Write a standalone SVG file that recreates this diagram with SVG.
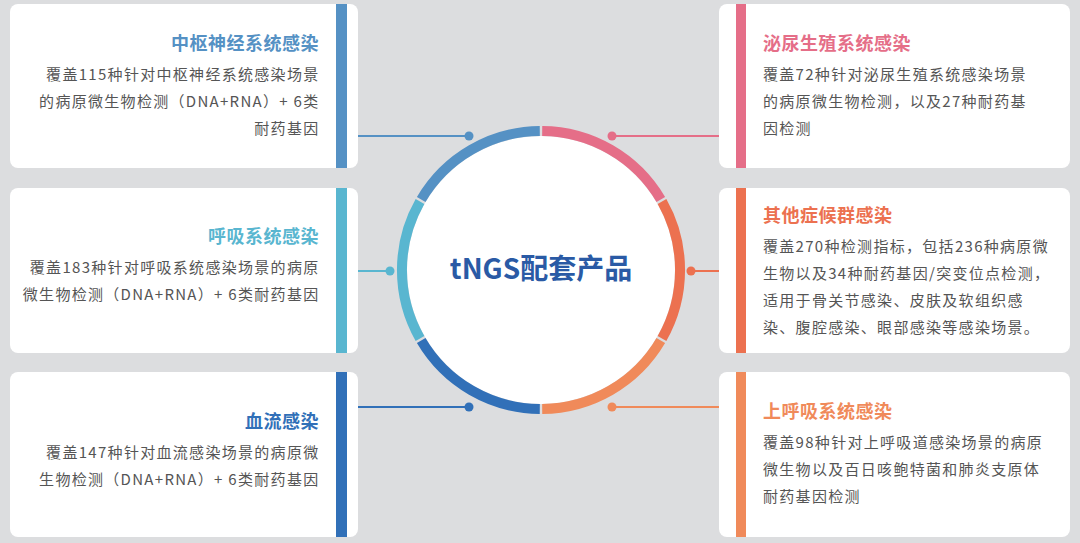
<svg xmlns="http://www.w3.org/2000/svg" width="1080" height="543" viewBox="0 0 1080 543">
<style>
.card{fill:#fff}
.t{font-family:"Noto Sans CJK SC","Noto Sans",sans-serif;font-weight:bold;font-size:18px;letter-spacing:0.5px}
.b{font-family:"Noto Sans CJK SC","Noto Sans",sans-serif;font-size:15px;fill:#555;letter-spacing:1.3px}
.l{text-anchor:end}
.ring{fill:none;stroke-width:10}
</style>
<rect width="1080" height="543" fill="#dcdddf"/>
<g id="center">
<circle cx="541" cy="270" r="134" fill="#fff"/>
<path class="ring" stroke="#5591c4" d="M539.8,131 A139,139 0 0 0 421.2,199.5"/>
<path class="ring" stroke="#e56e88" d="M542.2,131 A139,139 0 0 1 660.8,199.5"/>
<path class="ring" stroke="#ec7150" d="M662,201.5 A139,139 0 0 1 662,338.5"/>
<path class="ring" stroke="#f08a5a" d="M660.8,340.5 A139,139 0 0 1 542.2,409"/>
<path class="ring" stroke="#3170b8" d="M539.8,409 A139,139 0 0 1 421.2,340.5"/>
<path class="ring" stroke="#59b6d0" d="M420,338.5 A139,139 0 0 1 420,201.5"/>
<text x="541" y="279" text-anchor="middle" font-family="'Noto Sans CJK SC','Noto Sans',sans-serif" font-weight="bold" font-size="28" fill="#2a5aa5">tNGS配套产品</text>
</g>
<g id="connectors" stroke-width="2">
<line x1="358" y1="136" x2="469" y2="136" stroke="#5591c4"/><circle cx="469" cy="136" r="4.5" fill="#5591c4"/>
<line x1="358" y1="271" x2="390" y2="271" stroke="#59b6d0"/><circle cx="390" cy="271" r="4.5" fill="#59b6d0"/>
<line x1="358" y1="407" x2="469" y2="407" stroke="#3170b8"/><circle cx="469" cy="407" r="4.5" fill="#3170b8"/>
<line x1="612" y1="136" x2="720" y2="136" stroke="#e56e88"/><circle cx="612" cy="136" r="4.5" fill="#e56e88"/>
<line x1="691" y1="271" x2="720" y2="271" stroke="#ec7150"/><circle cx="691" cy="271" r="4.5" fill="#ec7150"/>
<line x1="612" y1="407" x2="720" y2="407" stroke="#f08a5a"/><circle cx="612" cy="407" r="4.5" fill="#f08a5a"/>
</g>
<g id="cns">
<rect class="card" x="10" y="4" width="348" height="164" rx="8"/>
<rect x="336" y="4" width="11" height="164" fill="#5591c4"/>
<text class="t l" x="319" y="50" fill="#5591c4">中枢神经系统感染</text>
<text class="b l" x="319.5" y="80">覆盖115种针对中枢神经系统感染场景</text>
<text class="b l" x="319.5" y="107">的病原微生物检测（DNA+RNA）+ 6类</text>
<text class="b l" x="319.5" y="134">耐药基因</text>
</g>
<g id="resp">
<rect class="card" x="10" y="188" width="348" height="165" rx="8"/>
<rect x="336" y="188" width="11" height="165" fill="#59b6d0"/>
<text class="t l" x="319" y="243" fill="#59b6d0">呼吸系统感染</text>
<text class="b l" x="319.5" y="273">覆盖183种针对呼吸系统感染场景的病原</text>
<text class="b l" x="319.5" y="300">微生物检测（DNA+RNA）+ 6类耐药基因</text>
</g>
<g id="blood">
<rect class="card" x="10" y="372" width="348" height="165" rx="8"/>
<rect x="336" y="372" width="11" height="165" fill="#3170b8"/>
<text class="t l" x="319" y="428" fill="#3170b8">血流感染</text>
<text class="b l" x="319.5" y="458">覆盖147种针对血流感染场景的病原微</text>
<text class="b l" x="319.5" y="485">生物检测（DNA+RNA）+ 6类耐药基因</text>
</g>
<g id="uro">
<rect class="card" x="719" y="4" width="351" height="164" rx="8"/>
<rect x="736" y="4" width="10" height="164" fill="#e56e88"/>
<text class="t" x="763" y="50" fill="#e56e88">泌尿生殖系统感染</text>
<text class="b" x="763" y="80">覆盖72种针对泌尿生殖系统感染场景</text>
<text class="b" x="763" y="107">的病原微生物检测，以及27种耐药基</text>
<text class="b" x="763" y="134">因检测</text>
</g>
<g id="other">
<rect class="card" x="719" y="188" width="351" height="165" rx="8"/>
<rect x="736" y="188" width="10" height="165" fill="#ec7150"/>
<text class="t" x="763" y="222" fill="#ec7150">其他症候群感染</text>
<text class="b" x="763" y="252">覆盖270种检测指标，包括236种病原微</text>
<text class="b" x="763" y="279">生物以及34种耐药基因/突变位点检测，</text>
<text class="b" x="763" y="306">适用于骨关节感染、皮肤及软组织感</text>
<text class="b" x="763" y="333">染、腹腔感染、眼部感染等感染场景。</text>
</g>
<g id="upper">
<rect class="card" x="719" y="372" width="351" height="165" rx="8"/>
<rect x="736" y="372" width="10" height="165" fill="#f08a5a"/>
<text class="t" x="763" y="418" fill="#f08a5a">上呼吸系统感染</text>
<text class="b" x="763" y="448">覆盖98种针对上呼吸道感染场景的病原</text>
<text class="b" x="763" y="475">微生物以及百日咳鲍特菌和肺炎支原体</text>
<text class="b" x="763" y="502">耐药基因检测</text>
</g>
</svg>
